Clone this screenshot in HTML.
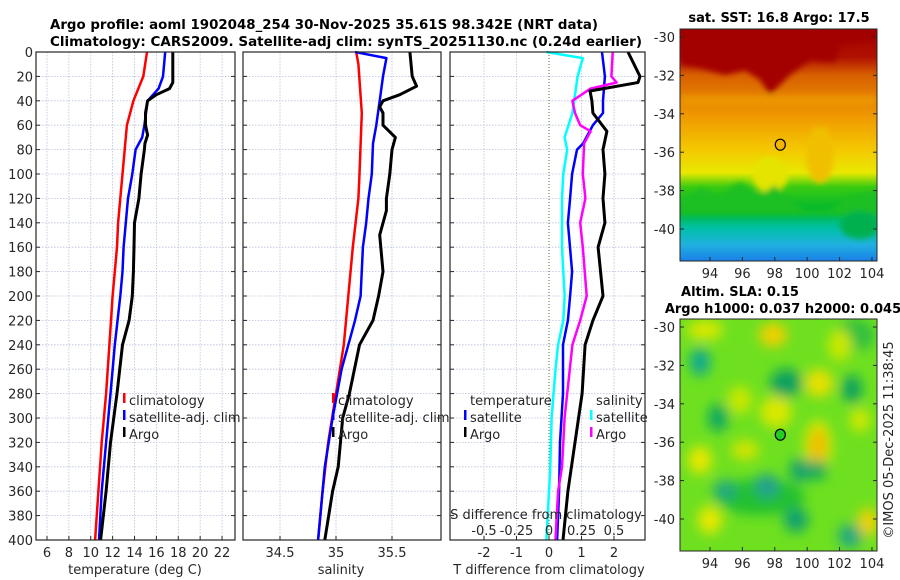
<!DOCTYPE html>
<html><head><meta charset="utf-8">
<style>
html,body{margin:0;padding:0;background:#fff;}
svg{display:block;font-family:"DejaVu Sans","Liberation Sans",sans-serif;}
</style></head>
<body>
<svg id="chart" width="900" height="580" viewBox="0 0 900 580" xmlns="http://www.w3.org/2000/svg">
<defs>
<filter id="blur6" x="-20%" y="-20%" width="140%" height="140%"><feGaussianBlur stdDeviation="6"/></filter>
<filter id="blur3"><feGaussianBlur stdDeviation="3"/></filter>
<clipPath id="clipM1"><rect x="680" y="29" width="197" height="232"/></clipPath>
<clipPath id="clipM2"><rect x="680" y="319" width="197" height="232"/></clipPath>
<linearGradient id="sstGrad" x1="0" y1="0" x2="0" y2="1">
<stop offset="0" stop-color="#a30000"/><stop offset="0.12" stop-color="#b01000"/>
<stop offset="0.2" stop-color="#d86000"/><stop offset="0.38" stop-color="#f09a00"/>
<stop offset="0.52" stop-color="#f4c800"/><stop offset="0.62" stop-color="#e8e800"/>
<stop offset="0.68" stop-color="#3ccc10"/><stop offset="0.78" stop-color="#00b830"/>
<stop offset="0.86" stop-color="#00c0a8"/><stop offset="0.93" stop-color="#20b0e0"/>
<stop offset="1" stop-color="#1a80e8"/>
</linearGradient>
</defs>
<g id="root"></g>
</svg>
<script>
// ---------- data ----------
const depthTemp = [0,20,40,60,80,100,120,140,160,180,200,240,280,320,360,400];
const tempClim = [15.14,14.8,13.9,13.3,13.1,12.9,12.7,12.5,12.4,12.2,12.0,11.7,11.4,11.0,10.7,10.4];
const depthTempSat = [0,20,30,40,60,70,80,100,120,140,160,180,200,240,280,320,360,400];
const tempSat = [16.8,16.6,16.2,15.2,14.9,14.7,14.1,13.8,13.4,13.2,13.0,12.9,12.7,12.2,11.8,11.4,11.0,10.75];
const depthArgo = [0,25,30,35,40,50,60,68,75,80,100,120,140,160,180,200,220,240,280,320,360,400];
const tempArgo = [17.5,17.5,17.2,16.0,15.2,15.0,15.0,15.2,14.95,14.9,14.6,14.4,14.0,13.95,13.9,13.8,13.5,12.9,12.4,11.8,11.4,10.9];

const depthSalClim = [0,10,50,100,120,160,200,240,280,320,360,400];
const salClim = [35.18,35.2,35.23,35.21,35.2,35.15,35.11,35.07,35.0,34.93,34.88,34.84];
const depthSalSat = [0,5,20,40,60,75,100,120,140,160,200,220,230,260,300,340,400];
const salSat = [35.17,35.45,35.42,35.39,35.36,35.33,35.32,35.29,35.27,35.24,35.22,35.17,35.14,35.05,34.97,34.9,34.84];
const depthSalArgo = [0,20,28,35,40,45,50,60,70,80,100,120,130,150,180,200,220,240,280,300,340,360,400];
const salArgo = [35.66,35.68,35.72,35.57,35.42,35.39,35.42,35.42,35.53,35.5,35.48,35.45,35.45,35.39,35.42,35.38,35.33,35.21,35.12,35.06,35.02,34.97,34.9];

const depthDT = [0,20,40,50,60,75,80,100,120,140,180,200,220,240,280,320,360,400];
const dTsat = [1.63,1.72,1.66,1.66,1.35,1.05,0.86,0.71,0.65,0.58,0.71,0.65,0.58,0.43,0.43,0.34,0.31,0.25];
const depthDTargo = [0,20,25,32,40,50,65,80,100,120,140,160,200,220,240,280,320,360,400];
const dTargo = [2.43,2.8,2.74,1.26,1.32,1.35,1.78,1.66,1.72,1.66,1.72,1.51,1.66,1.35,1.11,1.02,0.8,0.58,0.43];
const depthDS = [0,5,20,50,70,80,100,120,160,200,220,240,260,300,340,400];
const dSsat = [-0.02,0.26,0.22,0.18,0.12,0.14,0.11,0.10,0.10,0.12,0.11,0.07,0.05,0.02,0.01,-0.02];
const depthDSargo = [0,20,25,30,40,50,60,65,75,100,120,140,160,200,220,240,260,300,340,360,400];
const dSargo = [0.49,0.48,0.52,0.32,0.18,0.2,0.24,0.32,0.27,0.26,0.28,0.24,0.26,0.29,0.24,0.18,0.16,0.12,0.10,0.07,0.05];

const depthTicks = [0,20,40,60,80,100,120,140,160,180,200,220,240,260,280,300,320,340,360,380,400];
const tempTicks = [6,8,10,12,14,16,18,20,22];
const salTicks = [34.5,35,35.5];
const salTickLabels = ["34.5","35","35.5"];
const dTTicks = [-2,-1,0,1,2];
const dSTicks = [-0.5,-0.25,0,0.25,0.5];
const dSTickLabels = ["-0.5","-0.25","0","0.25","0.5"];
const latTicks = [-30,-32,-34,-36,-38,-40];
const lonTicks = [94,96,98,100,102,104];
const argoLon = 98.342, argoLat = -35.61;

// ---------- helpers ----------
const NS = "http://www.w3.org/2000/svg";
const root = document.getElementById('root');
function el(tag, attrs, parent, txt){
  const e = document.createElementNS(NS, tag);
  for (const k in attrs) e.setAttribute(k, attrs[k]);
  if (txt !== undefined) e.textContent = txt;
  (parent||root).appendChild(e);
  return e;
}
const yTop = 52, yBot = 540;
const yD = d => yTop + d*(yBot-yTop)/400;
const xT = v => 47 + (v-6)*10.94;
const xS = v => 336 + (v-35)*112;
const xDT = v => 549 + v*32.5;
const xDS = v => 549 + v*130;
const panels = [[36,235],[243,441],[450,645]];

function line(xs, ds, fx, color, w, name){
  let d = '';
  xs.forEach((v,i)=>{ d += (i?'L':'M') + fx(v).toFixed(1) + ',' + yD(ds[i]).toFixed(1); });
  const p = el('path',{d:d,fill:'none',stroke:color,'stroke-width':w,'stroke-linejoin':'round'});
  
  
}
function txt(x,y,s,opts,name){
  const t = el('text',Object.assign({x:x,y:y,'font-size':13,fill:'#262626'},opts||{}),root,s);
  
  
  return t;
}

// titles
txt(50,29,"Argo profile: aoml 1902048_254 30-Nov-2025 35.61S 98.342E (NRT data)",{'font-weight':'bold',fill:'#000',textLength:548,lengthAdjust:'spacingAndGlyphs'},'title-line-1');
txt(50,46,"Climatology: CARS2009. Satellite-adj clim: synTS_20251130.nc (0.24d earlier)",{'font-weight':'bold',fill:'#000',textLength:592,lengthAdjust:'spacingAndGlyphs'},'title-line-2');

// grids
function grid(x0,x1,xs){
  depthTicks.forEach(d=>{ if(d>0&&d<400){ const g=el('line',{x1:x0,x2:x1,y1:yD(d),y2:yD(d),stroke:'#b8c0dc','stroke-width':0.8,'stroke-dasharray':'1.5,1.5'});   }});
  xs.forEach(x=>{ const g=el('line',{x1:x,x2:x,y1:yTop,y2:yBot,stroke:'#b8c0dc','stroke-width':0.8,'stroke-dasharray':'1.5,1.5'});   });
}
grid(36,235,tempTicks.map(xT));
grid(243,441,salTicks.map(xS));
grid(450,645,dTTicks.filter(v=>v!==0).map(xDT));
const zl = el('line',{x1:xDT(0),x2:xDT(0),y1:yTop,y2:yBot,stroke:'#556b2f','stroke-width':1,'stroke-dasharray':'1,2'});
 

// series
line(tempClim, depthTemp, xT, '#ff0000', 2.5, 'temp-climatology-line');
line(tempSat, depthTempSat, xT, '#0000ff', 2.5, 'temp-satellite-line');
line(tempArgo, depthArgo, xT, '#000000', 3, 'temp-argo-line');
line(salClim, depthSalClim, xS, '#ff0000', 2.5, 'sal-climatology-line');
line(salSat, depthSalSat, xS, '#0000ff', 2.5, 'sal-satellite-line');
line(salArgo, depthSalArgo, xS, '#000000', 3, 'sal-argo-line');
line(dSsat, depthDS, xDS, '#00ffff', 2.5, 'dsal-satellite-line');
line(dTsat, depthDT, xDT, '#0000ff', 2.5, 'dtemp-satellite-line');
line(dSargo, depthDSargo, xDS, '#ff00ff', 2.5, 'dsal-argo-line');
line(dTargo, depthDTargo, xDT, '#000000', 3, 'dtemp-argo-line');

// frames and ticks
panels.forEach(([x0,x1],i)=>{
  const r = el('rect',{x:x0,y:yTop,width:x1-x0,height:yBot-yTop,fill:'none',stroke:'#262626','stroke-width':1.2});
   
  depthTicks.forEach(d=>{
    el('line',{x1:x0,x2:x0+4,y1:yD(d),y2:yD(d),stroke:'#262626'});
    el('line',{x1:x1-4,x2:x1,y1:yD(d),y2:yD(d),stroke:'#262626'});
  });
});
depthTicks.forEach(d=> txt(33,yD(d)+5,String(d),{'text-anchor':'end'},'depth-tick-label'));
tempTicks.forEach(v=>{ el('line',{x1:xT(v),x2:xT(v),y1:yBot,y2:yBot-4,stroke:'#262626'}); txt(xT(v),557,String(v),{'text-anchor':'middle'},'temp-tick-label'); });
salTicks.forEach((v,i)=>{ el('line',{x1:xS(v),x2:xS(v),y1:yBot,y2:yBot-4,stroke:'#262626'}); txt(xS(v),557,salTickLabels[i],{'text-anchor':'middle'},'sal-tick-label'); });
dTTicks.forEach(v=>{ el('line',{x1:xDT(v),x2:xDT(v),y1:yBot,y2:yBot-4,stroke:'#262626'}); txt(xDT(v),557,String(v),{'text-anchor':'middle'},'dtemp-tick-label'); });
dSTicks.forEach((v,i)=> txt(xDS(v),535,dSTickLabels[i],{'text-anchor':'middle'},'dsal-tick-label'));
txt(135,574,"temperature (deg C)",{'text-anchor':'middle'},'temp-axis-title');
txt(341,574,"salinity",{'text-anchor':'middle'},'sal-axis-title');
txt(549,574,"T difference from climatology",{'text-anchor':'middle'},'dtemp-axis-title');
txt(546,519,"S difference from climatology",{'text-anchor':'middle'},'dsal-axis-title');

// legends
function legend(x,y,color,label,name){
  const m = el('rect',{x:x-6,y:y-7,width:2.5,height:10,fill:color});
   
  txt(x,y+5,label,{},name);
}
legend(129,400,'#ff0000','climatology','legend-climatology');
legend(129,417,'#0000ff','satellite-adj. clim','legend-satellite');
legend(129,434,'#000000','Argo','legend-argo');
legend(338,400,'#ff0000','climatology','legend-sal-climatology');
legend(338,417,'#0000ff','satellite-adj. clim','legend-sal-satellite');
legend(338,434,'#000000','Argo','legend-sal-argo');
txt(470,405,'temperature',{},'legend-temp-heading');
legend(470,417,'#0000ff','satellite','legend-dtemp-satellite');
legend(470,434,'#000000','Argo','legend-dtemp-argo');
txt(596,405,'salinity',{},'legend-sal-heading');
legend(596,417,'#00ffff','satellite','legend-dsal-satellite');
legend(596,434,'#ff00ff','Argo','legend-dsal-argo');

// ---------- maps ----------
function mapAxes(y0, yTopTick, name){
  const mx = lon => 680 + (lon-92.15)*16.2;
  const my = lat => yTopTick + (-30-lat)*19.2;
  const r = el('rect',{x:680,y:y0,width:197,height:232,fill:'none',stroke:'#262626','stroke-width':1});
   
  latTicks.forEach(l=>{ el('line',{x1:680,x2:684,y1:my(l),y2:my(l),stroke:'#262626'}); el('line',{x1:873,x2:877,y1:my(l),y2:my(l),stroke:'#262626'}); txt(675,my(l)+5,String(l),{'text-anchor':'end'},name+'-lat-label'); });
  lonTicks.forEach(l=>{ el('line',{x1:mx(l),x2:mx(l),y1:y0+232,y2:y0+228,stroke:'#262626'}); txt(mx(l),y0+249,String(l),{'text-anchor':'middle'},name+'-lon-label'); });
  return [mx,my];
}
// SST map
const g1 = el('g',{'clip-path':'url(#clipM1)'});
 
el('rect',{x:680,y:29,width:197,height:232,fill:'url(#sstGrad)'},g1);
const gb1 = el('g',{filter:'url(#blur3)'},g1);
el('path',{d:'M680,29 L877,29 L877,40 L840,45 L835,62 L810,60 L790,75 L770,95 L760,80 L745,70 L725,75 L700,68 L680,65Z',fill:'#a30000'},gb1);
el('ellipse',{cx:820,cy:155,rx:14,ry:28,fill:'#f0c000'},gb1);
el('ellipse',{cx:770,cy:175,rx:18,ry:18,fill:'#e4e400'},gb1);
el('path',{d:'M680,200 L700,188 L720,195 L740,182 L760,195 L775,185 L790,200 L805,210 L830,210 L850,195 L877,190 L877,215 L680,215Z',fill:'#1ec020'},gb1);
el('ellipse',{cx:860,cy:225,rx:20,ry:14,fill:'#00b050'},gb1);
el('rect',{x:680,y:95,width:197,height:10,fill:'#f0a800',opacity:0.5},gb1);
const [mx1,my1] = mapAxes(29,37,'sst-map');
const c1 = el('ellipse',{cx:mx1(argoLon),cy:my1(argoLat),rx:5,ry:5.5,fill:'#f4b400',stroke:'#000','stroke-width':1.2});
 
txt(779,22,'sat. SST: 16.8 Argo: 17.5',{'text-anchor':'middle','font-weight':'bold',fill:'#000'},'sst-map-title');

// SLA map
const g2 = el('g',{'clip-path':'url(#clipM2)'});
 
el('rect',{x:680,y:319,width:197,height:232,fill:'#6ee020'},g2);
const gb2 = el('g',{filter:'url(#blur6)'},g2);
const blobs = [
 [773,335,14,12,'#f0d000'],[700,362,10,14,'#10a890'],[819,383,14,14,'#e8e000'],[786,383,16,14,'#10a060'],
 [852,389,10,14,'#10a060'],[718,418,10,14,'#10a860'],[776,412,16,16,'#d8e800'],
 [818,446,14,26,'#d8e800'],[818,446,8,18,'#f0b800'],[817,470,10,10,'#10a860'],[815,450,0,0,'#000'],[760,497,45,18,'#22c030'],[767,486,12,12,'#20a090'],[725,490,12,10,'#20a880'],
 [796,520,12,12,'#10a070'],[850,536,12,12,'#20a880'],[868,522,10,14,'#f0d000'],[710,520,12,14,'#e8e800'],
 [855,335,20,16,'#30c040'],[700,460,12,14,'#e8e800'],[745,450,14,10,'#d0e400'],[740,400,12,14,'#c8e800'],[705,330,18,10,'#d8e800'],
 [800,470,10,12,'#10a070'],[840,345,12,16,'#c8e800'],[860,420,10,12,'#d0e800']
];
blobs.forEach(b=> { if(b[2]>0) el('ellipse',{cx:b[0],cy:b[1],rx:b[2],ry:b[3],fill:b[4]},gb2); });
const [mx2,my2] = mapAxes(319,327,'sla-map');
const c2 = el('ellipse',{cx:mx2(argoLon),cy:my2(argoLat),rx:5,ry:5.5,fill:'#22cc22',stroke:'#000','stroke-width':1.2});
 
txt(740,296,'Altim. SLA: 0.15',{'text-anchor':'middle','font-weight':'bold',fill:'#000'},'sla-map-title-1');
txt(783,313,'Argo h1000: 0.037 h2000: 0.045',{'text-anchor':'middle','font-weight':'bold',fill:'#000'},'sla-map-title-2');
txt(0,0,'©IMOS 05-Dec-2025 11:38:45',{'text-anchor':'middle',transform:'translate(893,440) rotate(-90)'},'copyright-timestamp');
</script>
</body></html>
